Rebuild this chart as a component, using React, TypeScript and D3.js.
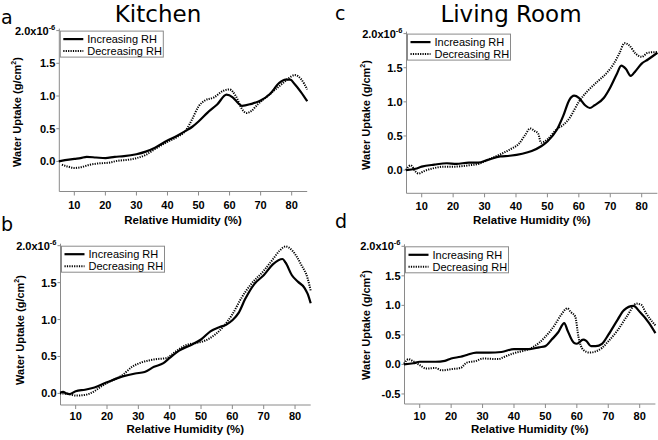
import React from 'react';
import * as d3 from 'd3';

type Pt = [number, number];

// Relative humidity (%) vs water uptake (x10^-6 g/cm^2)
const kitchenTopInc: Pt[] = [[5,0.0],[7,0.02],[10,0.04],[12,0.05],[14,0.07],[17,0.06],[20,0.05],[23,0.07],[26,0.08],[30,0.11],[33,0.15],[36,0.21],[40,0.32],[43,0.39],[46,0.47],[48,0.53],[50,0.61],[53,0.75],[56,0.87],[59,1.02],[61,0.98],[63,0.88],[64,0.85],[67,0.88],[70,0.93],[73,1.03],[76,1.2],[78,1.25],[79.5,1.25],[81,1.18],[83,1.06],[85,0.92]];
const kitchenTopDec: Pt[] = [[6,-0.05],[8,-0.08],[10,-0.1],[12,-0.09],[15,-0.05],[18,-0.03],[21,-0.02],[24,0.01],[28,0.03],[30,0.05],[33,0.1],[36,0.19],[40,0.3],[43,0.37],[46,0.48],[48,0.65],[50,0.84],[52,0.93],[55,0.98],[58,1.08],[60,1.1],[62,1.0],[64,0.8],[65.5,0.74],[67,0.77],[69,0.87],[71,0.95],[74,1.07],[77,1.19],[79,1.27],[81,1.32],[83,1.26],[85,1.1]];
const kitchenBotInc: Pt[] = [[5,0.01],[6,0.02],[7,0.0],[8,-0.01],[10,0.03],[13,0.05],[16,0.08],[20,0.15],[25,0.23],[29,0.27],[32,0.29],[35,0.36],[38,0.41],[40,0.48],[43,0.58],[47,0.66],[50,0.73],[53,0.84],[56,0.9],[58,0.93],[60,0.99],[62,1.09],[64,1.27],[67,1.48],[70,1.6],[73,1.75],[76,1.82],[77,1.77],[79,1.6],[81,1.51],[83,1.43],[84,1.35],[85,1.22]];
const kitchenBotDec: Pt[] = [[5,0.0],[8,-0.01],[10,-0.03],[13,-0.02],[16,0.03],[18,0.09],[20,0.14],[25,0.25],[28,0.36],[31,0.42],[35,0.46],[39,0.48],[42,0.57],[45,0.65],[48,0.68],[51,0.71],[54,0.78],[57,0.9],[60,1.07],[63,1.3],[66,1.48],[70,1.66],[73,1.82],[75,1.93],[77,1.99],[79,1.94],[82,1.74],[84,1.56],[85,1.39]];
const livingTopInc: Pt[] = [[5,0],[8,0.02],[10,0.05],[14,0.08],[18,0.1],[21,0.09],[25,0.11],[28,0.11],[31,0.15],[35,0.2],[38,0.21],[42,0.24],[45,0.28],[48,0.35],[50,0.42],[53,0.59],[55,0.79],[57,1.03],[58.5,1.09],[60,1.06],[62,0.95],[63.5,0.91],[65,0.95],[68,1.06],[70,1.21],[72,1.4],[73.5,1.53],[75,1.48],[76.5,1.38],[78,1.45],[80,1.56],[82,1.62],[85,1.72]];
const livingTopDec: Pt[] = [[5,0],[6.5,0.07],[8,-0.02],[9,-0.05],[11,-0.01],[14,0.03],[17,0.05],[20,0.05],[25,0.07],[28,0.09],[32,0.17],[35,0.23],[38,0.3],[41,0.39],[43,0.52],[44.5,0.61],[46,0.57],[47,0.54],[48,0.4],[50,0.45],[53,0.6],[55,0.66],[57,0.76],[60,1.0],[63,1.17],[66,1.3],[69,1.43],[71,1.55],[73,1.72],[74.5,1.86],[76,1.83],[78,1.71],[80,1.66],[82,1.72],[85,1.73]];
const livingBotInc: Pt[] = [[5,0],[8,0.02],[10,0.045],[15,0.045],[18,0.06],[20,0.1],[23,0.13],[25,0.16],[28,0.2],[32,0.2],[36,0.21],[40,0.26],[45,0.26],[48,0.29],[50,0.31],[52,0.42],[54,0.54],[56,0.7],[57,0.58],[59,0.37],[60,0.35],[62,0.42],[63,0.4],[64.5,0.31],[66,0.31],[68,0.35],[70,0.5],[73,0.76],[75,0.92],[78,0.99],[80,0.89],[83,0.7],[85,0.53]];
const livingBotDec: Pt[] = [[5,0.01],[6.5,0.09],[8,0.05],[10,-0.01],[12,-0.07],[15,-0.06],[17,-0.1],[20,-0.08],[23,-0.06],[25,0.03],[28,0.06],[30,0.1],[35,0.09],[37,0.13],[40,0.19],[43,0.23],[46,0.29],[50,0.47],[53,0.67],[55,0.84],[57,0.95],[58,0.89],[59.5,0.81],[60.5,0.47],[62,0.25],[64,0.2],[66,0.22],[68,0.28],[70,0.39],[73,0.58],[76,0.82],[79,1.03],[80.5,1.01],[82,0.87],[85,0.66]];

const xTicks = [10, 20, 30, 40, 50, 60, 70, 80];
const yTicksMain = [0, 0.5, 1.0, 1.5, 2.0];
const yTicksWithNeg = [-0.5, 0, 0.5, 1.0, 1.5, 2.0];
const legendLabels = ['Increasing RH', 'Decreasing RH'];
const titles = ['Kitchen', 'Living Room'];
const panelLetters = ['a', 'b', 'c', 'd'];

type Panel = {
  letter: string; letterX: number; letterY: number;
  x0: number; x1: number; yTop: number; yBot: number; yMin: number;
  yTicks: number[]; inc: Pt[]; dec: Pt[];
  yTitleX: number; yTitleY: number; tickLabelY: number; xTitleY: number;
};

const panels: Panel[] = [
  { letter: panelLetters[0], letterX: 1, letterY: 24, x0: 58.8, x1: 307.2, yTop: 30.6, yBot: 191.5, yMin: -0.46,
    yTicks: yTicksMain, inc: kitchenTopInc, dec: kitchenTopDec, yTitleX: 21, yTitleY: 112, tickLabelY: 209, xTitleY: 224 },
  { letter: panelLetters[1], letterX: 1, letterY: 231, x0: 60, x1: 310.7, yTop: 245.7, yBot: 405, yMin: -0.157,
    yTicks: yTicksMain, inc: kitchenBotInc, dec: kitchenBotDec, yTitleX: 24, yTitleY: 330, tickLabelY: 420, xTitleY: 433 },
  { letter: panelLetters[2], letterX: 335, letterY: 20, x0: 406, x1: 657.4, yTop: 33.6, yBot: 193.3, yMin: -0.34,
    yTicks: yTicksMain, inc: livingTopInc, dec: livingTopDec, yTitleX: 370, yTitleY: 115, tickLabelY: 210, xTitleY: 224 },
  { letter: panelLetters[3], letterX: 335, letterY: 228, x0: 404, x1: 655.4, yTop: 246.3, yBot: 404, yMin: -0.67,
    yTicks: yTicksWithNeg, inc: livingBotInc, dec: livingBotDec, yTitleX: 370, yTitleY: 325, tickLabelY: 420, xTitleY: 433 },
];

const AX = '#8a8a8a';
const TICKFONT = "'Liberation Sans', Arial, sans-serif";
const TITLEFONT = "'DejaVu Sans', sans-serif";

function PanelView({ p }: { p: Panel }) {
  const x = d3.scaleLinear().domain([5, 85]).range([p.x0, p.x1]);
  const y = d3.scaleLinear().domain([p.yMin, 2.0]).range([p.yBot, p.yTop]);
  const line = d3.line<Pt>().x(d => x(d[0])).y(d => y(d[1])).curve(d3.curveMonotoneX);
  const axL = p.x0 + 0.5;
  const lx = axL + 1;
  const ly = p.yTop + 0.5;
  return (
    <g>
      <text x={p.letterX} y={p.letterY} fontFamily={TITLEFONT} fontSize={19} fill="#000">{p.letter}</text>
      <line x1={axL} x2={axL} y1={p.yTop - 2} y2={p.yBot} stroke={AX} strokeWidth={1} />
      <line x1={axL} x2={p.x1} y1={p.yBot} y2={p.yBot} stroke={AX} strokeWidth={1} />
      {p.yTicks.map(t => (
        <g key={t}>
          <line x1={axL - 3} x2={axL} y1={y(t)} y2={y(t)} stroke={AX} />
          {t === 2.0 ? (
            <text x={axL - 4} y={y(t) + 4} textAnchor="end" fontFamily={TICKFONT} fontWeight="bold" fontSize={11} fill="#000">
              2.0x10<tspan dy={-5} fontSize={7.5}>-6</tspan>
            </text>
          ) : (
            <text x={axL - 4} y={y(t) + 4} textAnchor="end" fontFamily={TICKFONT} fontWeight="bold" fontSize={11} fill="#000">
              {t.toFixed(1)}
            </text>
          )}
        </g>
      ))}
      {xTicks.map(t => (
        <g key={t}>
          <line x1={x(t)} x2={x(t)} y1={p.yBot} y2={p.yBot + 4} stroke={AX} />
          <text x={x(t)} y={p.tickLabelY} textAnchor="middle" fontFamily={TICKFONT} fontWeight="bold" fontSize={11} fill="#000">{t}</text>
        </g>
      ))}
      <text x={(p.x0 + p.x1) / 2} y={p.xTitleY} textAnchor="middle" fontFamily={TICKFONT} fontWeight="bold" fontSize={11.5} fill="#000">Relative Humidity (%)</text>
      <text transform={`translate(${p.yTitleX},${p.yTitleY}) rotate(-90)`} textAnchor="middle" fontFamily={TICKFONT} fontWeight="bold" fontSize={11} fill="#000">
        Water Uptake (g/cm<tspan dy={-5} fontSize={7}>2</tspan><tspan dy={5}>)</tspan>
      </text>
      <path d={line(p.inc) || ''} fill="none" stroke="#000" strokeWidth={2.2} strokeLinejoin="round" />
      <path d={line(p.dec) || ''} fill="none" stroke="#000" strokeWidth={2} strokeDasharray="1.2,1.2" />
      <rect x={lx} y={ly} width={103} height={26} fill="#fff" stroke={AX} strokeWidth={1} />
      <line x1={lx + 3} x2={lx + 23} y1={ly + 8} y2={ly + 8} stroke="#000" strokeWidth={2.2} />
      <line x1={lx + 3} x2={lx + 23} y1={ly + 20} y2={ly + 20} stroke="#000" strokeWidth={2} strokeDasharray="1.2,1.2" />
      <text x={lx + 27} y={ly + 12} fontFamily={TICKFONT} fontSize={11} fill="#000">{legendLabels[0]}</text>
      <text x={lx + 27} y={ly + 24} fontFamily={TICKFONT} fontSize={11} fill="#000">{legendLabels[1]}</text>
    </g>
  );
}

export default function App() {
  return (
    <svg width={658} height={440} style={{ position: 'absolute', left: 0, top: 0, background: '#fff' }}>
      <rect x={0} y={0} width={658} height={440} fill="#fff" />
      <text x={158} y={21.8} textAnchor="middle" fontFamily={TITLEFONT} fontSize={23} fill="#000">{titles[0]}</text>
      <text x={511} y={21.8} textAnchor="middle" fontFamily={TITLEFONT} fontSize={23} fill="#000">{titles[1]}</text>
      {panels.map(p => <PanelView key={p.letter} p={p} />)}
    </svg>
  );
}
